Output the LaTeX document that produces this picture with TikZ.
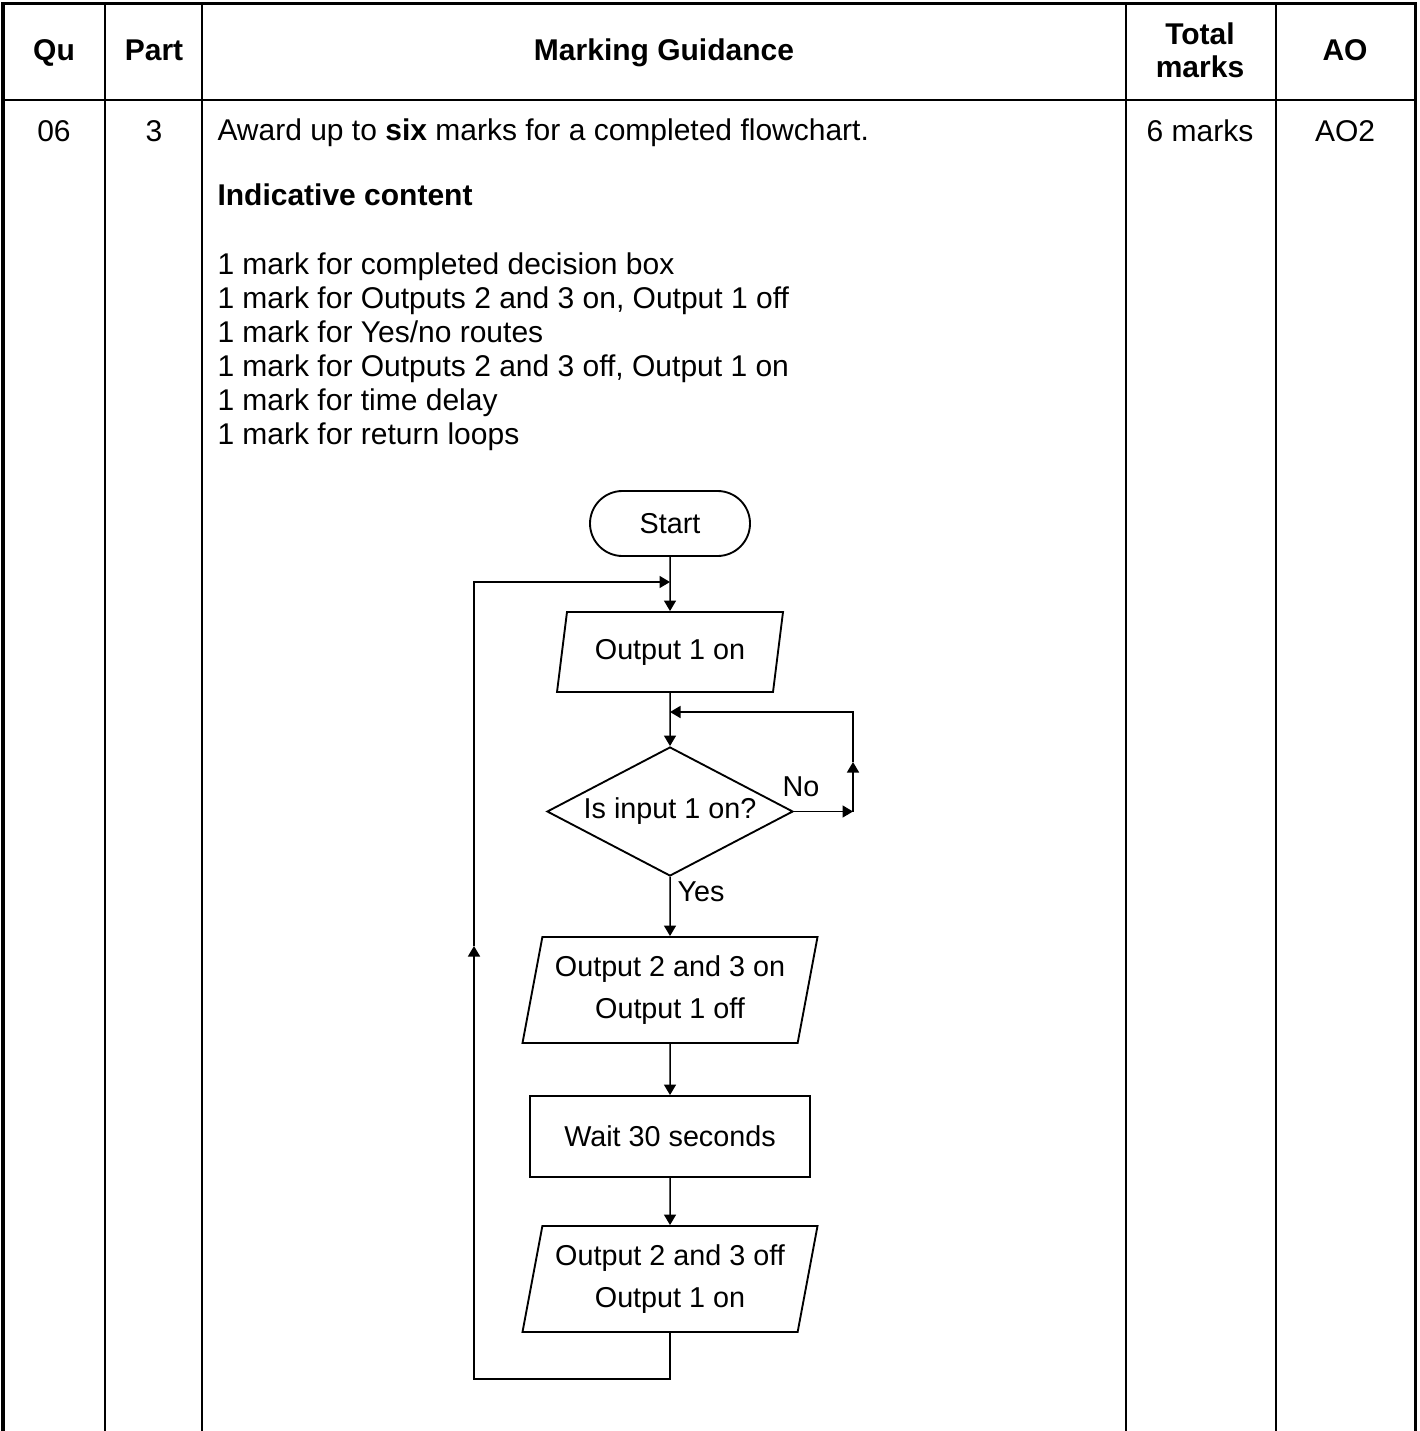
\documentclass[tikz,border=0pt]{standalone}
\usepackage{fontspec}
\setmainfont{Liberation Sans}
\usetikzlibrary{shapes.geometric,arrows.meta}
\begin{document}
\begin{tikzpicture}[x=0.4pt,y=-0.4pt,font=\fontsize{12}{13.6}\selectfont,
  outer/.style={line width=1.2pt},
  rule/.style={line width=0.7pt},
  box/.style={draw,line width=0.75pt,inner sep=0pt,font=\fontsize{11.5}{17}\selectfont},
  io/.style={box,trapezium,trapezium stretches body,align=center},
  arr/.style={-{Triangle[length=4.2pt,width=4.8pt]},line width=0.6pt},
  hd/.style={font=\fontsize{12}{13.2}\selectfont\bfseries,align=center},
  txt/.style={anchor=mid west,inner sep=0pt}]
\useasboundingbox (0,0) rectangle (1419,1431);
% table
\draw[outer] (3,1431) -- (3,4) -- (1415,4) -- (1415,1431);
\draw[rule] (3,100) -- (1415,100);
\foreach \cx in {105,202,1126,1276} \draw[rule] (\cx,4) -- (\cx,1431);
\node[hd,anchor=base] (hqu) at (54,61) {Qu};
\node[hd,anchor=base] (hpart) at (154,61) {Part};
\node[hd,anchor=base] (hmg) at (664,61) {Marking Guidance};
\node[hd] (htot) at (1200,50) {Total\\marks};
\node[hd,anchor=base] (hao) at (1345,61) {AO};
\node[anchor=base] (qu) at (54,142) {06};
\node[anchor=base] (part) at (154,142) {3};
\node[anchor=base] (tot) at (1200,142) {6 marks};
\node[anchor=base] (ao) at (1345,142) {AO2};
\node[txt] (award) at (217,134) {Award up to \textbf{six} marks for a completed flowchart.};
\node[txt,font=\fontsize{12}{13.6}\selectfont\bfseries] (ind) at (217,199) {Indicative content};
\foreach \line [count=\i] in {{1 mark for completed decision box},
  {1 mark for Outputs 2 and 3 on, Output 1 off},
  {1 mark for Yes/no routes},
  {1 mark for Outputs 2 and 3 off, Output 1 on},
  {1 mark for time delay},
  {1 mark for return loops}}
  \node[txt] (m\i) at (217,{268+34*(\i-1)}) {\line};
% flowchart
\node[box,rectangle,rounded corners=13pt,minimum width=64pt,minimum height=26pt] (start) at (670,523.5) {Start};
\node[io,trapezium left angle=69,trapezium right angle=111,minimum width=90.4pt,minimum height=32pt] (out1) at (670,652) {Output 1 on};
\node[box,diamond,aspect=1.9,minimum width=98.4pt,minimum height=51.6pt] (dec) at (670,811.5) {Is input 1 on?};
\node[io,trapezium left angle=74,trapezium right angle=106,minimum width=118pt,minimum height=42.4pt] (out2) at (670,990) {Output 2 and 3 on\\Output 1 off};
\node[box,rectangle,minimum width=112pt,minimum height=32.4pt] (wait) at (670,1136.5) {Wait 30 seconds};
\node[io,trapezium left angle=74,trapezium right angle=106,minimum width=118pt,minimum height=42.4pt] (out3) at (670,1279) {Output 2 and 3 off\\Output 1 on};
\node[font=\fontsize{11.5}{13}\selectfont] (no) at (801,787) {No};
\node[font=\fontsize{11.5}{13}\selectfont] (yes) at (701,892) {Yes};
\coordinate (j1) at (670,582);
\coordinate (j2) at (670,712);
\coordinate (nr) at (853,811.5);
\coordinate (nm) at (853,762);
\coordinate (nt) at (853,712);
\coordinate (lb) at (474,1379);
\coordinate (lm) at (474,946);
\coordinate (lt) at (474,582);
\draw[arr] (start) -- (out1);
\draw[arr] (out1) -- (dec);
\draw[arr] (dec.east) -- (nr);
\draw[arr] (nr) -- (nm);
\draw[arr] (nm) -- (nt) -- (j2);
\draw[arr] (dec.south) -- (out2);
\draw[arr] (out2) -- (wait);
\draw[arr] (wait) -- (out3);
\draw[arr] (out3.south) |- (lb) -- (lm);
\draw[arr] (lm) -- (lt) -- (j1);
\end{tikzpicture}
\end{document}
